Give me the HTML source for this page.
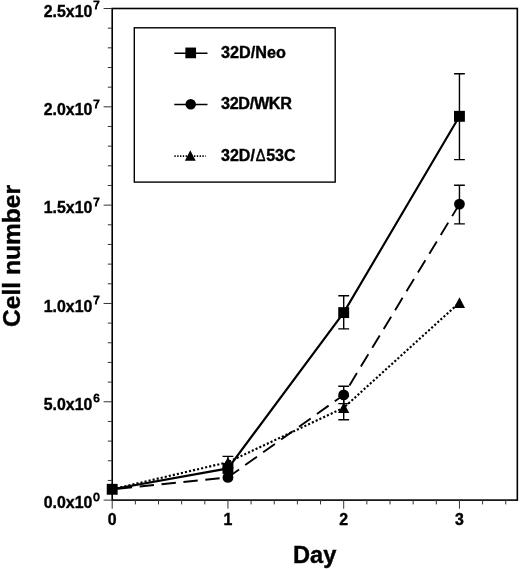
<!DOCTYPE html>
<html lang="en">
<head>
<meta charset="utf-8">
<title>Cell number vs Day</title>
<style>
html,body{margin:0;padding:0;background:#fff;}
svg{display:block;}
text{font-family:"Liberation Sans",Arial,Helvetica,sans-serif;font-weight:bold;fill:#000;stroke:#000;stroke-width:0.4px;}
</style>
</head>
<body>
<svg width="520" height="569" viewBox="0 0 520 569">
<rect x="0" y="0" width="520" height="569" fill="#fff"/>
<rect x="112.20" y="8.50" width="405.13" height="491.60" fill="none" stroke="#000" stroke-width="1.6"/>
<path d="M112.20 500.10h-8.6 M112.20 480.44h-4.4 M112.20 460.77h-4.4 M112.20 441.11h-4.4 M112.20 421.44h-4.4 M112.20 401.78h-8.6 M112.20 382.12h-4.4 M112.20 362.45h-4.4 M112.20 342.79h-4.4 M112.20 323.12h-4.4 M112.20 303.46h-8.6 M112.20 283.80h-4.4 M112.20 264.13h-4.4 M112.20 244.47h-4.4 M112.20 224.80h-4.4 M112.20 205.14h-8.6 M112.20 185.48h-4.4 M112.20 165.81h-4.4 M112.20 146.15h-4.4 M112.20 126.48h-4.4 M112.20 106.82h-8.6 M112.20 87.16h-4.4 M112.20 67.49h-4.4 M112.20 47.83h-4.4 M112.20 28.16h-4.4 M112.20 8.50h-8.6 M112.20 500.10v8.6 M135.35 500.10v4.3 M158.50 500.10v4.3 M181.65 500.10v4.3 M204.80 500.10v4.3 M227.95 500.10v8.6 M251.10 500.10v4.3 M274.25 500.10v4.3 M297.40 500.10v4.3 M320.55 500.10v4.3 M343.70 500.10v8.6 M366.85 500.10v4.3 M390.00 500.10v4.3 M413.15 500.10v4.3 M436.30 500.10v4.3 M459.45 500.10v8.6 M482.60 500.10v4.3 M505.75 500.10v4.3" fill="none" stroke="#333" stroke-width="1.0"/>
<text transform="translate(92.40 16.70) scale(0.925 1)" font-size="17.2" text-anchor="end">2.5x10</text>
<text transform="translate(93.30 9.20) scale(1.0 1)" font-size="11.6" text-anchor="start" style="font-weight:normal;stroke-width:0.9px">7</text>
<text transform="translate(92.40 115.02) scale(0.925 1)" font-size="17.2" text-anchor="end">2.0x10</text>
<text transform="translate(93.30 107.52) scale(1.0 1)" font-size="11.6" text-anchor="start" style="font-weight:normal;stroke-width:0.9px">7</text>
<text transform="translate(92.40 213.34) scale(0.925 1)" font-size="17.2" text-anchor="end">1.5x10</text>
<text transform="translate(93.30 205.84) scale(1.0 1)" font-size="11.6" text-anchor="start" style="font-weight:normal;stroke-width:0.9px">7</text>
<text transform="translate(92.40 311.66) scale(0.925 1)" font-size="17.2" text-anchor="end">1.0x10</text>
<text transform="translate(93.30 304.16) scale(1.0 1)" font-size="11.6" text-anchor="start" style="font-weight:normal;stroke-width:0.9px">7</text>
<text transform="translate(92.40 409.98) scale(0.925 1)" font-size="17.2" text-anchor="end">5.0x10</text>
<text transform="translate(93.30 402.48) scale(1.0 1)" font-size="11.6" text-anchor="start" style="font-weight:normal;stroke-width:0.9px">6</text>
<text transform="translate(92.40 508.30) scale(0.925 1)" font-size="17.2" text-anchor="end">0.0x10</text>
<text transform="translate(93.30 500.80) scale(1.0 1)" font-size="11.6" text-anchor="start" style="font-weight:normal;stroke-width:0.9px">0</text>
<text transform="translate(112.20 524.70) scale(0.925 1)" font-size="17.2" text-anchor="middle">0</text>
<text transform="translate(227.95 524.70) scale(0.925 1)" font-size="17.2" text-anchor="middle">1</text>
<text transform="translate(343.70 524.70) scale(0.925 1)" font-size="17.2" text-anchor="middle">2</text>
<text transform="translate(459.45 524.70) scale(0.925 1)" font-size="17.2" text-anchor="middle">3</text>
<text transform="translate(314.60 563.00) scale(0.953 1)" font-size="24.8" text-anchor="middle">Day</text>
<text transform="translate(19.6 256) rotate(-90) scale(1 0.935)" font-size="24.6" text-anchor="middle">Cell number</text>
<rect x="134.3" y="27.8" width="200.9" height="154.3" fill="#fff" stroke="#000" stroke-width="1.4"/>
<path d="M174.3 53.2H207.5" stroke="#000" stroke-width="1.6" fill="none"/>
<rect x="185.35" y="47.55" width="10.7" height="10.7" fill="#000"/>
<path d="M174.3 104.5H207.5" stroke="#000" stroke-width="1.6" fill="none"/>
<circle cx="190.70" cy="104.30" r="5.25" fill="#000"/>
<path d="M174.4 156.2H205.8" stroke="#000" stroke-width="1.8" stroke-dasharray="1.35 1.45" fill="none"/>
<path d="M190.30 150.35L195.70 160.65H184.90Z" fill="#000"/>
<text transform="translate(221.00 58.10) scale(0.943 1)" font-size="17.2" text-anchor="start">32D/Neo</text>
<text transform="translate(221.00 109.40) scale(0.943 1)" font-size="17.2" text-anchor="start" textLength="75.2" lengthAdjust="spacing">32D/WKR</text>
<text transform="translate(221.00 160.70) scale(0.943 1)" font-size="17.0" text-anchor="start">32D/</text>
<text transform="translate(255.86 160.70) scale(0.86 1)" font-size="17.0" text-anchor="start" style="font-weight:normal;stroke-width:0.5px">Δ</text>
<text transform="translate(266.16 160.70) scale(0.943 1)" font-size="17.0" text-anchor="start">53C</text>
<polyline points="112.20,489.30 227.95,468.40 343.70,312.60 459.45,116.30" fill="none" stroke="#000" stroke-width="2.15"/>
<polyline points="112.20,489.30 227.95,477.40 343.70,394.90 459.45,204.10" fill="none" stroke="#000" stroke-width="1.9" stroke-dasharray="14.4 7.6" stroke-dashoffset="-5.6"/>
<polyline points="112.20,489.30 227.95,462.20 343.70,407.80 459.45,302.60" fill="none" stroke="#000" stroke-width="2.15" stroke-dasharray="2.1 2.05"/>
<path d="M227.95 456.40V467.60M222.55 456.40h10.8M222.55 467.60h10.8" fill="none" stroke="#000" stroke-width="1.4"/>
<path d="M343.70 295.80V328.90M338.30 295.80h10.8M338.30 328.90h10.8" fill="none" stroke="#000" stroke-width="1.4"/>
<path d="M343.70 386.30V403.60M338.30 386.30h10.8M338.30 403.60h10.8" fill="none" stroke="#000" stroke-width="1.4"/>
<path d="M343.70 396.20V419.80M338.30 396.20h10.8M338.30 419.80h10.8" fill="none" stroke="#000" stroke-width="1.4"/>
<path d="M459.45 73.80V159.60M454.05 73.80h10.8M454.05 159.60h10.8" fill="none" stroke="#000" stroke-width="1.4"/>
<path d="M459.45 185.20V223.90M454.05 185.20h10.8M454.05 223.90h10.8" fill="none" stroke="#000" stroke-width="1.4"/>
<path d="M227.95 456.90L233.55 467.50H222.35Z" fill="#000"/>
<path d="M343.70 402.50L349.30 413.10H338.10Z" fill="#000"/>
<path d="M459.45 297.30L465.05 307.90H453.85Z" fill="#000"/>
<rect x="106.75" y="483.85" width="10.9" height="10.9" fill="#000"/>
<rect x="222.50" y="462.95" width="10.9" height="10.9" fill="#000"/>
<rect x="338.25" y="307.15" width="10.9" height="10.9" fill="#000"/>
<rect x="454.00" y="110.85" width="10.9" height="10.9" fill="#000"/>
<circle cx="227.95" cy="477.40" r="5.4" fill="#000"/>
<circle cx="343.70" cy="394.90" r="5.4" fill="#000"/>
<circle cx="459.45" cy="204.10" r="5.4" fill="#000"/>
</svg>
</body>
</html>
